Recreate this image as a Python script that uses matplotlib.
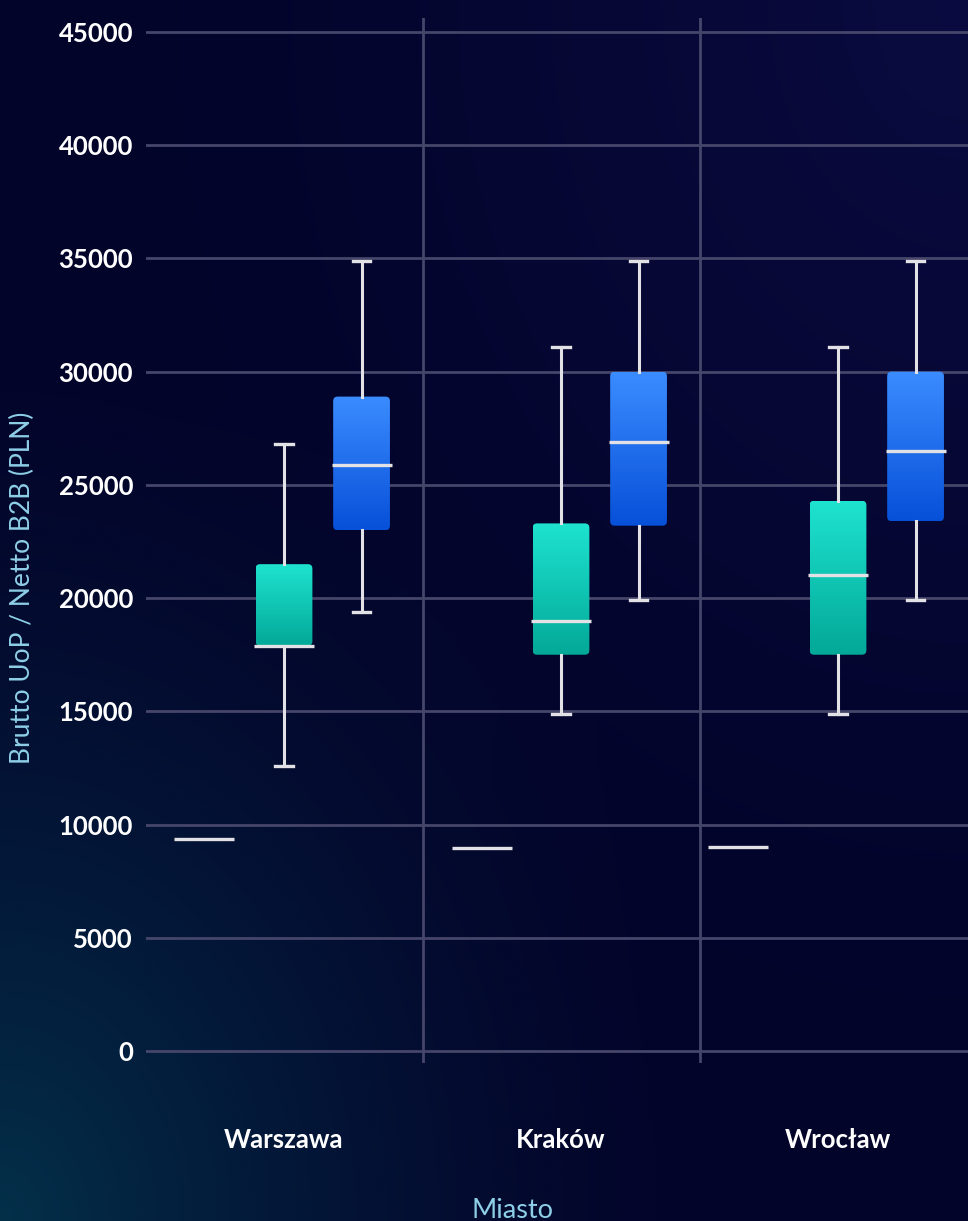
import numpy as np
import matplotlib
matplotlib.use("Agg")
import matplotlib.pyplot as plt
from matplotlib.patches import FancyBboxPatch
from matplotlib.colors import to_rgb

# ---------------- data ----------------
cities = ["Warszawa", "Kraków", "Wrocław"]
# single-value series (min = q1 = median = q3 = max)
flat_values = [9350, 8950, 9000]
# teal series: [whislo, q1, median, q3, whishi]
teal_whislo = [12600, 14900, 14900]
teal_q1 = [17900, 17500, 17500]
teal_med = [17900, 19000, 21000]
teal_q3 = [21500, 23300, 24300]
teal_whishi = [26800, 31100, 31100]
# blue series
blue_whislo = [19400, 19900, 19900]
blue_q1 = [23000, 23200, 23400]
blue_med = [25900, 26900, 26500]
blue_q3 = [28900, 30000, 30000]
blue_whishi = [34900, 34900, 34900]
yticks = [0, 5000, 10000, 15000, 20000, 25000, 30000, 35000, 40000, 45000]

# ---------------- layout ----------------
W, H = 968, 1221
fig = plt.figure(figsize=(W / 100, H / 100), dpi=100)

# background gradient
bg = fig.add_axes([0, 0, 1, 1], zorder=-10)
yy, xx = np.mgrid[0:1:300j, 0:1:240j]  # yy: 0 top -> 1 bottom
base = np.array(to_rgb("#03042a"))
teal_glow = np.array(to_rgb("#03304a"))
blue_glow = np.array(to_rgb("#0a0b40"))
d1 = np.sqrt((xx - 0.0) ** 2 + (yy - 1.0) ** 2)
w1 = np.clip(1 - d1 / 0.75, 0, 1) ** 1.6
d2 = np.sqrt((xx - 1.0) ** 2 + (yy - 0.0) ** 2)
w2 = np.clip(1 - d2 / 0.9, 0, 1) ** 1.3
img = base[None, None, :] * (1 - w1[..., None] - w2[..., None]).clip(0, 1) \
    + teal_glow[None, None, :] * w1[..., None] + blue_glow[None, None, :] * w2[..., None]
img = np.clip(img, 0, 1)
bg.imshow(img, aspect="auto", extent=[0, 1, 0, 1], origin="upper", interpolation="bicubic")
bg.set_axis_off()

ax_left, ax_right = 145.5, 976.5
ax_top, ax_bot = 18, 1063
ax = fig.add_axes([ax_left / W, 1 - ax_bot / H, (ax_right - ax_left) / W, (ax_bot - ax_top) / H])
ax.patch.set_alpha(0)
for s in ax.spines.values():
    s.set_visible(False)

grid_c = "#46456a"
line_c = "#e2e2e6"

teal_off = 0.0
blue_off = 0.28
flat_off = [-0.29, -0.285, -0.36]
box_w = 0.205
flat_w = 0.217
cap_w = 0.062

def stats(lo, q1, med, q3, hi):
    return dict(whislo=lo, q1=q1, med=med, q3=q3, whishi=hi, fliers=[])

x = np.arange(len(cities))

# gridlines
for yt in yticks:
    ax.axhline(yt, color=grid_c, lw=2, zorder=1)
for xb in [0.5, 1.5]:
    ax.axvline(xb, color=grid_c, lw=2, zorder=1)

common = dict(showfliers=False, patch_artist=False,
              whiskerprops=dict(color=line_c, lw=2.2),
              capprops=dict(color=line_c, lw=2.4),
              medianprops=dict(color=line_c, lw=2.4),
              boxprops=dict(color="none", lw=0), manage_ticks=False, zorder=5)

# flat series
flat_stats = [stats(v, v, v, v, v) for v in flat_values]
ax.bxp(flat_stats, positions=x + np.array(flat_off), widths=flat_w,
       capwidths=0.001, **common)

def gradient_boxes(positions, q1s, q3s, top_col, bot_col):
    for p, q1, q3 in zip(positions, q1s, q3s):
        x0 = p - box_w / 2
        patch = FancyBboxPatch((x0, q1), box_w, q3 - q1,
                               boxstyle="round,pad=0,rounding_size=0.016",
                               mutation_aspect=12500,
                               facecolor="none", edgecolor="none", zorder=3)
        ax.add_patch(patch)
        t = np.linspace(0, 1, 128)[:, None]
        c_top = np.array(to_rgb(top_col))
        c_bot = np.array(to_rgb(bot_col))
        grad = c_top[None, None, :] * (1 - t[..., None]) + c_bot[None, None, :] * t[..., None]
        grad = np.repeat(grad, 4, axis=1)
        im = ax.imshow(grad, extent=[x0, x0 + box_w, q1, q3], origin="upper",
                       aspect="auto", zorder=3, interpolation="bilinear")
        im.set_clip_path(patch)

# teal series
tpos = x + teal_off
ax.bxp([stats(*v) for v in zip(teal_whislo, teal_q1, teal_med, teal_q3, teal_whishi)],
       positions=tpos, widths=box_w + 0.012, capwidths=cap_w, **common)
gradient_boxes(tpos, teal_q1, teal_q3, "#1ee3cf", "#03a898")

# blue series
bpos = x + blue_off
ax.bxp([stats(*v) for v in zip(blue_whislo, blue_q1, blue_med, blue_q3, blue_whishi)],
       positions=bpos, widths=box_w + 0.012, capwidths=cap_w, **common)
gradient_boxes(bpos, blue_q1, blue_q3, "#3b8cff", "#0750d9")

ax.set_xlim(-0.5, 2.5)
ax.set_ylim(-530, 45620)

ax.set_yticks(yticks)
ax.set_yticklabels([str(v) for v in yticks])
ax.set_xticks(x)
ax.set_xticklabels(cities)
ax.tick_params(axis="both", length=0, colors="white")
ax.tick_params(axis="y", pad=9)
ax.tick_params(axis="x", pad=47)
for lab in ax.get_yticklabels() + ax.get_xticklabels():
    lab.set_fontfamily(["Lato", "DejaVu Sans"])
    lab.set_fontweight("bold")
    lab.set_fontsize(18.5)
    lab.set_color("white")

label_c = "#8ecfe8"
fig.text(22 / W, 1 - 588 / H, "Brutto UoP / Netto B2B (PLN)", rotation=90,
         ha="center", va="center", color=label_c, fontsize=19,
         fontfamily=["Lato", "DejaVu Sans"], fontweight="normal")
fig.text(512 / W, 1 - 1210 / H, "Miasto", ha="center", va="center", color=label_c,
         fontsize=19.5, fontfamily=["Lato", "DejaVu Sans"], fontweight="normal")

fig.savefig("out.png", dpi=100)
